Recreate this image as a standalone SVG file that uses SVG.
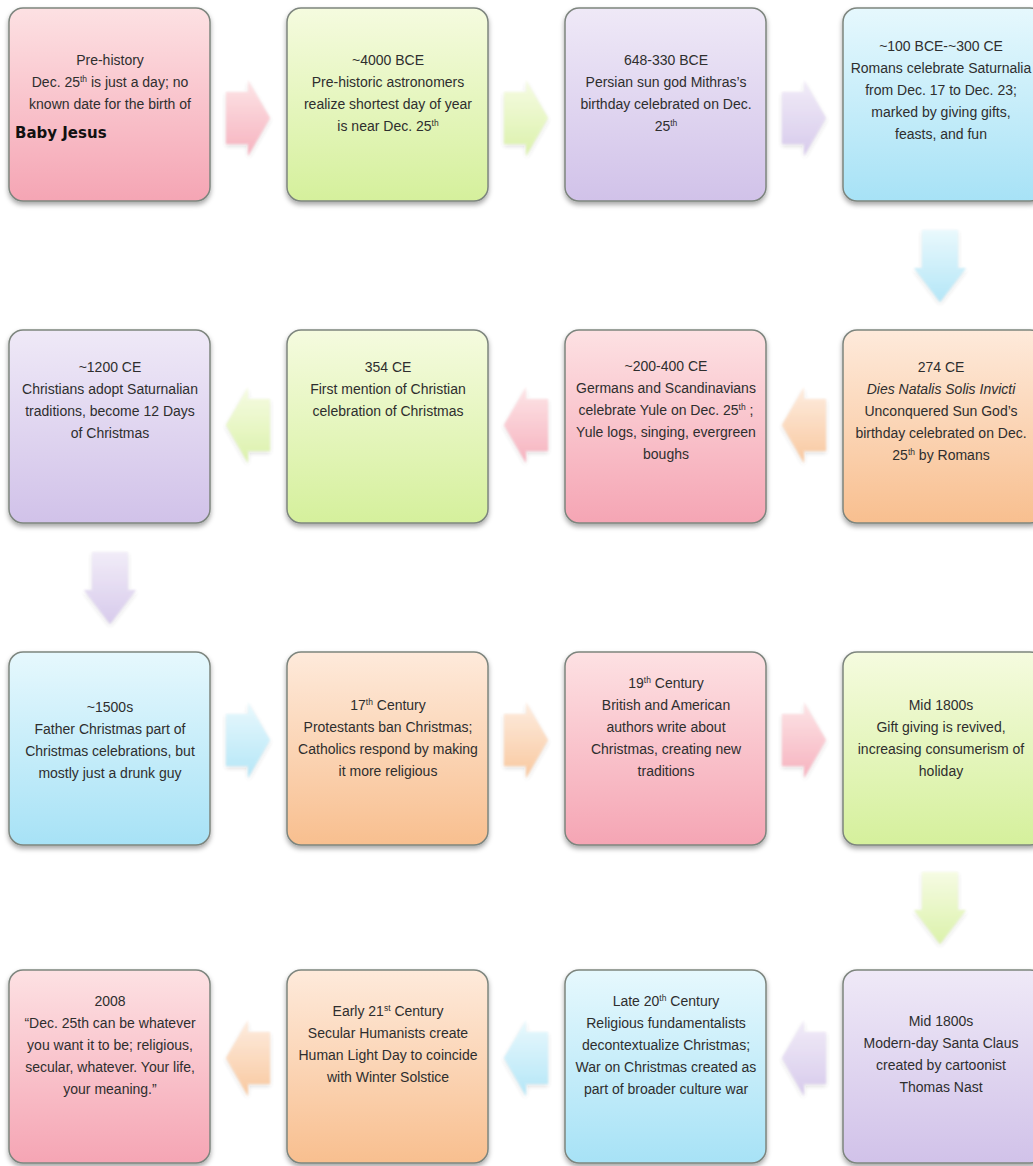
<svg xmlns="http://www.w3.org/2000/svg" width="1033" height="1166" viewBox="0 0 1033 1166">
<defs>
  <linearGradient id="gPink" x1="0" y1="0" x2="0" y2="1"><stop offset="0" stop-color="#fde1e3"/><stop offset="1" stop-color="#f5a5b4"/></linearGradient>
  <linearGradient id="gGreen" x1="0" y1="0" x2="0" y2="1"><stop offset="0" stop-color="#f5fbdf"/><stop offset="1" stop-color="#d5f09c"/></linearGradient>
  <linearGradient id="gLav" x1="0" y1="0" x2="0" y2="1"><stop offset="0" stop-color="#efe9f7"/><stop offset="1" stop-color="#d1c2e9"/></linearGradient>
  <linearGradient id="gBlue" x1="0" y1="0" x2="0" y2="1"><stop offset="0" stop-color="#e6f8fd"/><stop offset="1" stop-color="#a7e2f6"/></linearGradient>
  <linearGradient id="gOrange" x1="0" y1="0" x2="0" y2="1"><stop offset="0" stop-color="#feeadb"/><stop offset="1" stop-color="#f8bf8f"/></linearGradient>
  <filter id="sh" x="-10%" y="-10%" width="120%" height="125%">
    <feDropShadow dx="0" dy="3" stdDeviation="2.5" flood-color="#000" flood-opacity="0.35"/>
  </filter>
  <filter id="ash" x="-20%" y="-20%" width="140%" height="140%">
    <feGaussianBlur in="SourceGraphic" stdDeviation="0.8" result="b"/>
    <feDropShadow in="b" dx="0" dy="2" stdDeviation="2" flood-color="#000" flood-opacity="0.2"/>
  </filter>
</defs>
<style>
  .box { stroke: #7d857e; stroke-width: 1.5; filter: url(#sh); }
  .t { font-family: "Liberation Sans", Arial, sans-serif; font-size: 14px; fill: #2e2e2e; text-anchor: middle; }
  .sup { font-size: 8.5px; }
  .it { font-style: italic; }
  .bj { font-family: "DejaVu Sans", "Liberation Sans", sans-serif; font-size: 15px; font-weight: bold; fill: #111; }
  .arr { filter: url(#ash); opacity: 0.85; }
</style>
<rect width="1033" height="1166" fill="#ffffff"/>

<g id="connectors">
  <path class="arr" fill="url(#gPink)" d="M226 92 H248 V80 L270 118 L248 156 V144 H226 Z"/>
  <path class="arr" fill="url(#gGreen)" d="M504 92 H526 V80 L548 118 L526 156 V144 H504 Z"/>
  <path class="arr" fill="url(#gLav)" d="M782 92 H804 V80 L826 118 L804 156 V144 H782 Z"/>
  <path class="arr" fill="url(#gBlue)" d="M922 230 H958 V268 H966 L940 302 L914 268 H922 Z"/>
  <path class="arr" fill="url(#gOrange)" d="M826 399 H804 V387 L782 425 L804 463 V451 H826 Z"/>
  <path class="arr" fill="url(#gPink)" d="M548 399 H526 V387 L504 425 L526 463 V451 H548 Z"/>
  <path class="arr" fill="url(#gGreen)" d="M270 399 H248 V387 L226 425 L248 463 V451 H270 Z"/>
  <path class="arr" fill="url(#gLav)" d="M92 552 H128 V590 H136 L110 624 L84 590 H92 Z"/>
  <path class="arr" fill="url(#gBlue)" d="M226 714 H248 V702 L270 740 L248 778 V766 H226 Z"/>
  <path class="arr" fill="url(#gOrange)" d="M504 714 H526 V702 L548 740 L526 778 V766 H504 Z"/>
  <path class="arr" fill="url(#gPink)" d="M782 714 H804 V702 L826 740 L804 778 V766 H782 Z"/>
  <path class="arr" fill="url(#gGreen)" d="M922 872 H958 V910 H966 L940 944 L914 910 H922 Z"/>
  <path class="arr" fill="url(#gLav)" d="M826 1032 H804 V1020 L782 1058 L804 1096 V1084 H826 Z"/>
  <path class="arr" fill="url(#gBlue)" d="M548 1032 H526 V1020 L504 1058 L526 1096 V1084 H548 Z"/>
  <path class="arr" fill="url(#gOrange)" d="M270 1032 H248 V1020 L226 1058 L248 1096 V1084 H270 Z"/>
</g>

<g id="n1">
  <rect class="box" x="9" y="8" width="201" height="193" rx="14" fill="url(#gPink)"/>
  <text class="t" x="110" y="65">Pre-history</text>
  <text class="t" x="110" y="87">Dec. 25<tspan class="sup" baseline-shift="super">th</tspan> is just a day; no</text>
  <text class="t" x="110" y="109">known date for the birth of</text>
  <text class="bj" x="15" y="138">Baby Jesus</text>
</g>
<g id="n2">
  <rect class="box" x="287" y="8" width="201" height="193" rx="14" fill="url(#gGreen)"/>
  <text class="t" x="388" y="65">~4000 BCE</text>
  <text class="t" x="388" y="87">Pre-historic astronomers</text>
  <text class="t" x="388" y="109">realize shortest day of year</text>
  <text class="t" x="388" y="131">is near Dec. 25<tspan class="sup" baseline-shift="super">th</tspan></text>
</g>
<g id="n3">
  <rect class="box" x="565" y="8" width="201" height="193" rx="14" fill="url(#gLav)"/>
  <text class="t" x="666" y="65">648-330 BCE</text>
  <text class="t" x="666" y="87">Persian sun god Mithras’s</text>
  <text class="t" x="666" y="109">birthday celebrated on Dec.</text>
  <text class="t" x="666" y="131">25<tspan class="sup" baseline-shift="super">th</tspan></text>
</g>
<g id="n4">
  <rect class="box" x="843" y="8" width="201" height="193" rx="14" fill="url(#gBlue)"/>
  <text class="t" x="941" y="51">~100 BCE-~300 CE</text>
  <text class="t" x="941" y="73">Romans celebrate Saturnalia</text>
  <text class="t" x="941" y="95">from Dec. 17 to Dec. 23;</text>
  <text class="t" x="941" y="117">marked by giving gifts,</text>
  <text class="t" x="941" y="139">feasts, and fun</text>
</g>

<g id="n5">
  <rect class="box" x="843" y="330" width="201" height="193" rx="14" fill="url(#gOrange)"/>
  <text class="t" x="941" y="372">274 CE</text>
  <text class="t it" x="941" y="394">Dies Natalis Solis Invicti</text>
  <text class="t" x="941" y="416">Unconquered Sun God’s</text>
  <text class="t" x="941" y="438">birthday celebrated on Dec.</text>
  <text class="t" x="941" y="460">25<tspan class="sup" baseline-shift="super">th</tspan> by Romans</text>
</g>
<g id="n6">
  <rect class="box" x="565" y="330" width="201" height="193" rx="14" fill="url(#gPink)"/>
  <text class="t" x="666" y="371">~200-400 CE</text>
  <text class="t" x="666" y="393">Germans and Scandinavians</text>
  <text class="t" x="666" y="415">celebrate Yule on Dec. 25<tspan class="sup" baseline-shift="super">th</tspan> ;</text>
  <text class="t" x="666" y="437">Yule logs, singing, evergreen</text>
  <text class="t" x="666" y="459">boughs</text>
</g>
<g id="n7">
  <rect class="box" x="287" y="330" width="201" height="193" rx="14" fill="url(#gGreen)"/>
  <text class="t" x="388" y="372">354 CE</text>
  <text class="t" x="388" y="394">First mention of Christian</text>
  <text class="t" x="388" y="416">celebration of Christmas</text>
</g>
<g id="n8">
  <rect class="box" x="9" y="330" width="201" height="193" rx="14" fill="url(#gLav)"/>
  <text class="t" x="110" y="372">~1200 CE</text>
  <text class="t" x="110" y="394">Christians adopt Saturnalian</text>
  <text class="t" x="110" y="416">traditions, become 12 Days</text>
  <text class="t" x="110" y="438">of Christmas</text>
</g>

<g id="n9">
  <rect class="box" x="9" y="652" width="201" height="193" rx="14" fill="url(#gBlue)"/>
  <text class="t" x="110" y="712">~1500s</text>
  <text class="t" x="110" y="734">Father Christmas part of</text>
  <text class="t" x="110" y="756">Christmas celebrations, but</text>
  <text class="t" x="110" y="778">mostly just a drunk guy</text>
</g>
<g id="n10">
  <rect class="box" x="287" y="652" width="201" height="193" rx="14" fill="url(#gOrange)"/>
  <text class="t" x="388" y="710">17<tspan class="sup" baseline-shift="super">th</tspan> Century</text>
  <text class="t" x="388" y="732">Protestants ban Christmas;</text>
  <text class="t" x="388" y="754">Catholics respond by making</text>
  <text class="t" x="388" y="776">it more religious</text>
</g>
<g id="n11">
  <rect class="box" x="565" y="652" width="201" height="193" rx="14" fill="url(#gPink)"/>
  <text class="t" x="666" y="688">19<tspan class="sup" baseline-shift="super">th</tspan> Century</text>
  <text class="t" x="666" y="710">British and American</text>
  <text class="t" x="666" y="732">authors write about</text>
  <text class="t" x="666" y="754">Christmas, creating new</text>
  <text class="t" x="666" y="776">traditions</text>
</g>
<g id="n12">
  <rect class="box" x="843" y="652" width="201" height="193" rx="14" fill="url(#gGreen)"/>
  <text class="t" x="941" y="710">Mid 1800s</text>
  <text class="t" x="941" y="732">Gift giving is revived,</text>
  <text class="t" x="941" y="754">increasing consumerism of</text>
  <text class="t" x="941" y="776">holiday</text>
</g>

<g id="n13">
  <rect class="box" x="843" y="970" width="201" height="193" rx="14" fill="url(#gLav)"/>
  <text class="t" x="941" y="1026">Mid 1800s</text>
  <text class="t" x="941" y="1048">Modern-day Santa Claus</text>
  <text class="t" x="941" y="1070">created by cartoonist</text>
  <text class="t" x="941" y="1092">Thomas Nast</text>
</g>
<g id="n14">
  <rect class="box" x="565" y="970" width="201" height="193" rx="14" fill="url(#gBlue)"/>
  <text class="t" x="666" y="1006">Late 20<tspan class="sup" baseline-shift="super">th</tspan> Century</text>
  <text class="t" x="666" y="1028">Religious fundamentalists</text>
  <text class="t" x="666" y="1050">decontextualize Christmas;</text>
  <text class="t" x="666" y="1072">War on Christmas created as</text>
  <text class="t" x="666" y="1094">part of broader culture war</text>
</g>
<g id="n15">
  <rect class="box" x="287" y="970" width="201" height="193" rx="14" fill="url(#gOrange)"/>
  <text class="t" x="388" y="1016">Early 21<tspan class="sup" baseline-shift="super">st</tspan> Century</text>
  <text class="t" x="388" y="1038">Secular Humanists create</text>
  <text class="t" x="388" y="1060">Human Light Day to coincide</text>
  <text class="t" x="388" y="1082">with Winter Solstice</text>
</g>
<g id="n16">
  <rect class="box" x="9" y="970" width="201" height="193" rx="14" fill="url(#gPink)"/>
  <text class="t" x="110" y="1006">2008</text>
  <text class="t" x="110" y="1028">“Dec. 25th can be whatever</text>
  <text class="t" x="110" y="1050">you want it to be; religious,</text>
  <text class="t" x="110" y="1072">secular, whatever.  Your life,</text>
  <text class="t" x="110" y="1094">your meaning.”</text>
</g>
</svg>
